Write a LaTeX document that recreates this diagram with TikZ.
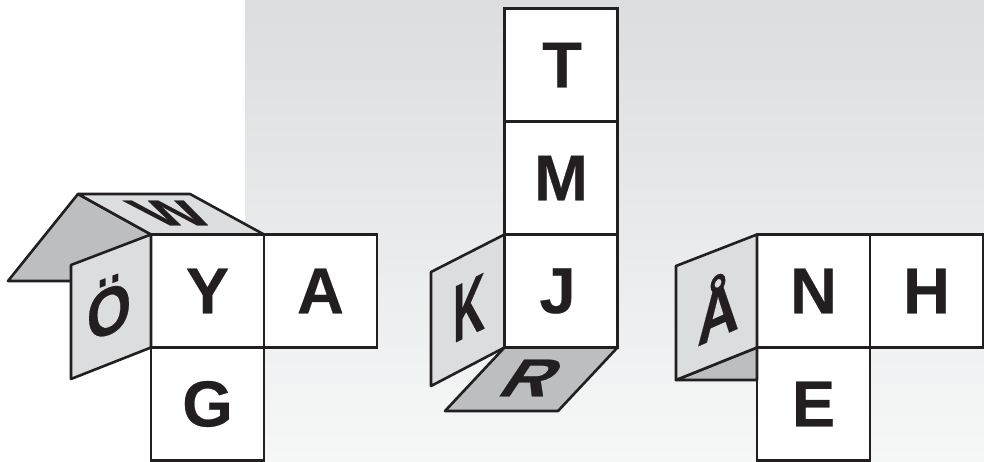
\documentclass[tikz,border=0pt]{standalone}
\usepackage{fontspec}
\setmainfont{Liberation Sans}[BoldFeatures={FakeBold=0.35}]
\usetikzlibrary{positioning}
\definecolor{ink}{HTML}{231F20}
\definecolor{flaplight}{HTML}{DCDDDE}
\definecolor{flapdark}{HTML}{BCBEC0}
\definecolor{bgtop}{HTML}{DCDDDF}
\definecolor{bgbottom}{HTML}{F6F7F7}
\tikzset{
  cell/.style={draw=ink,line width=2.6pt,fill=white,minimum size=113pt,inner sep=0pt,outer sep=0pt,
    text=ink,font=\fontsize{65}{65}\selectfont\bfseries},
  flap/.style={draw=ink,line width=2.6pt,line join=round,fill=flaplight},
  flapshade/.style={flap,fill=flapdark},
  letter/.style={text=ink,inner sep=0pt,font=\fontsize{65}{65}\selectfont\bfseries,transform shape}
}
\begin{document}
\begin{tikzpicture}[x=1pt,y=1pt]
  \useasboundingbox (0,0) rectangle (984,462);
  \shade[top color=bgtop,bottom color=bgbottom] (245,0) rectangle (984,462);

  % left net
  \coordinate (ws) at (8,181);
  \coordinate (wb) at (78,268);
  \coordinate (wc) at (190,268);
  \coordinate (od) at (71,181);
  \coordinate (oa) at (71,197);
  \coordinate (ob) at (71,83);
  \node[cell] (y) at (207.5,171) {Y};
  \node[cell,right=0pt of y] (a) {A};
  \node[cell,below=0pt of y] (g) {G};
  \draw[flapshade] (y.north west) -- (wb) -- (ws) -- (od) -- cycle;
  \draw[flap] (y.north west) -- (wb) -- (wc) -- (y.north east) -- cycle;
  \draw[flap] (y.north west) -- (oa) -- (ob) -- (y.south west) -- cycle;
  \node[letter,cm={0.88,0.33,0,1.03,(0,0)}] (o) at (109,156) {Ö};
  \node[letter,cm={1,0,-0.8,0.55,(0,0)}] (w) at (171,249) {W};

  % middle net
  \coordinate (ka) at (431,190);
  \coordinate (kb) at (431,76);
  \coordinate (rc) at (558,51);
  \coordinate (rd) at (445,51);
  \node[cell] (j) at (561,171) {\hspace{-7pt}J};
  \node[cell,above=0pt of j] (m) {M};
  \node[cell,above=0pt of m] (t) {\hspace{2pt}T};
  \draw[flap] (j.north west) -- (ka) -- (kb) -- (j.south west) -- cycle;
  \draw[flapshade] (j.south west) -- (j.south east) -- (rc) -- (rd) -- cycle;
  \node[letter,cm={0.68,0.33,0,1.25,(0,0)}] (k) at (469,154) {K};
  \node[letter,cm={1.05,0,0.55,0.82,(0,0)}] (r) at (532,84) {R};

  % right net
  \coordinate (aa) at (676,196);
  \coordinate (ab) at (676,82);
  \coordinate (ac) at (757,82);
  \node[cell] (n) at (813.5,171) {N};
  \node[cell,right=0pt of n] (h) {H};
  \node[cell,below=0pt of n] (e) {E};
  \draw[flapshade] (n.south west) -- (ab) -- (ac) -- cycle;
  \draw[flap] (n.north west) -- (aa) -- (ab) -- (n.south west) -- cycle;
  \node[letter,cm={0.9,0.4,0,1.1,(0,0)}] (aring) at (718,156) {Å};
\end{tikzpicture}
\end{document}
